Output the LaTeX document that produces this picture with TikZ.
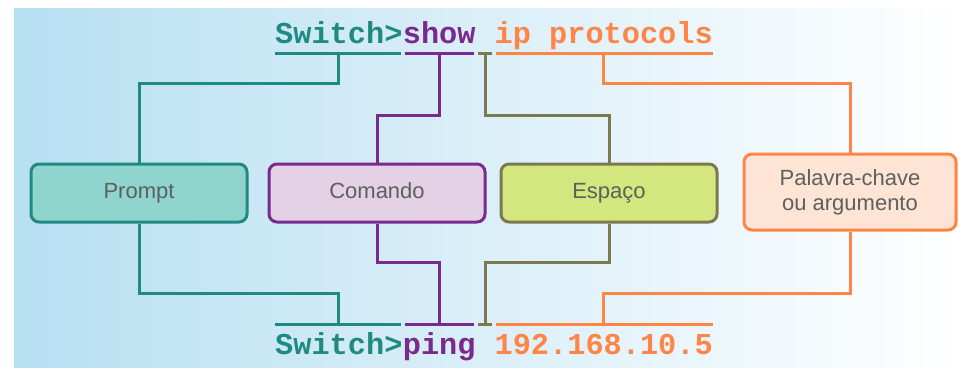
\documentclass[tikz,border=0pt]{standalone}
\usepackage{fontspec}
\setmainfont{Liberation Sans}
\newfontfamily\codefont{Liberation Mono}
\usetikzlibrary{positioning,calc}
\definecolor{PromptLine}{HTML}{1E8A82}
\definecolor{PromptFill}{HTML}{8FD5CE}
\definecolor{CmdLine}{HTML}{7A2A8C}
\definecolor{CmdFill}{HTML}{E4D1E6}
\definecolor{SpaceLine}{HTML}{7B7950}
\definecolor{SpaceFill}{HTML}{D4E67E}
\definecolor{ArgLine}{HTML}{FF8547}
\definecolor{ArgFill}{HTML}{FEE4D4}
\definecolor{BgBlue}{HTML}{B7DFF2}
\definecolor{LabelGray}{HTML}{5C605E}

\tikzset{
  code/.style={inner sep=0pt, anchor=base west, font=\codefont\bfseries\fontsize{30.3}{32}\selectfont},
  part/.style={rectangle, rounded corners=8pt, line width=3pt, minimum width=216pt,
    minimum height=58pt, align=center, text=LabelGray, font=\fontsize{22}{25}\selectfont},
  oneline/.style={text height=16pt, text depth=5pt},
  link/.style={line width=3pt}
}

\begin{document}
\begin{tikzpicture}[x=1pt, y=-1pt]
  \useasboundingbox (0,0) rectangle (959,376);
  \fill[left color=BgBlue, right color=white] (14,8) rectangle (959,367);

  % show ip protocols
  \node[code, text=PromptLine] (s0) at (275,43) {Switch>};
  \node[code, text=CmdLine] (s1) at (s0.base east) {show};
  \node[code] (s2) at (s1.base east) {\phantom{x}};
  \node[code, text=ArgLine] (s3) at (s2.base east) {ip protocols};
  \draw[link, PromptLine] ($(s0.base west)+(0,10)$) -- ($(s0.base east)+(-2,10)$);
  \draw[link, CmdLine] ($(s1.base west)+(2,10)$) -- ($(s1.base east)+(-2,10)$);
  \draw[link, SpaceLine] ($(s2.base west)+(2,10)$) -- ($(s2.base east)+(-2,10)$);
  \draw[link, ArgLine] ($(s3.base west)+(2,10)$) -- ($(s3.base east)+(0,10)$);
  \coordinate (s0u) at ($(s0.base)+(0,10)$);
  \coordinate (s1u) at ($(s1.base)+(0,10)$);
  \coordinate (s2u) at ($(s2.base)+(0,10)$);
  \coordinate (s3u) at ($(s3.base)+(0,10)$);

  % ping 192.168.10.5
  \node[code, text=PromptLine] (b0) at (275,354) {Switch>};
  \node[code, text=CmdLine] (b1) at (b0.base east) {ping};
  \node[code] (b2) at (b1.base east) {\phantom{x}};
  \node[code, text=ArgLine] (b3) at (b2.base east) {192.168.10.5};
  \draw[link, PromptLine] ($(b0.base west)+(0,-30)$) -- ($(b0.base east)+(-2,-30)$);
  \draw[link, CmdLine] ($(b1.base west)+(2,-30)$) -- ($(b1.base east)+(-2,-30)$);
  \draw[link, SpaceLine] ($(b2.base west)+(2,-30)$) -- ($(b2.base east)+(-2,-30)$);
  \draw[link, ArgLine] ($(b3.base west)+(2,-30)$) -- ($(b3.base east)+(0,-30)$);
  \coordinate (b0u) at ($(b0.base)+(0,-30)$);
  \coordinate (b1u) at ($(b1.base)+(0,-30)$);
  \coordinate (b2u) at ($(b2.base)+(0,-30)$);
  \coordinate (b3u) at ($(b3.base)+(0,-30)$);

  % parts
  \node[part, oneline, draw=PromptLine, fill=PromptFill] (prompt) at (139,193) {Prompt};
  \node[part, oneline, draw=CmdLine, fill=CmdFill] (cmd) at (377,193) {Comando};
  \node[part, oneline, draw=SpaceLine, fill=SpaceFill] (space) at (609,193) {Espaço};
  \node[part, draw=ArgLine, fill=ArgFill, minimum width=212pt, minimum height=76pt] (arg) at (850,192) {Palavra-chave\\ou argumento};

  \draw[link, PromptLine] (s0u) -- ++(0,30) -| (prompt.north);
  \draw[link, CmdLine] (s1u) -- ++(0,62) -| (cmd.north);
  \draw[link, SpaceLine] (s2u) -- ++(0,62) -| (space.north);
  \draw[link, ArgLine] (s3u) -- ++(0,30) -| (arg.north);

  \draw[link, PromptLine] (prompt.south) |- ($(b0u)+(0,-31)$) -- (b0u);
  \draw[link, CmdLine] (cmd.south) |- ($(b1u)+(0,-62)$) -- (b1u);
  \draw[link, SpaceLine] (space.south) |- ($(b2u)+(0,-62)$) -- (b2u);
  \draw[link, ArgLine] (arg.south) |- ($(b3u)+(0,-31)$) -- (b3u);
\end{tikzpicture}
\end{document}
